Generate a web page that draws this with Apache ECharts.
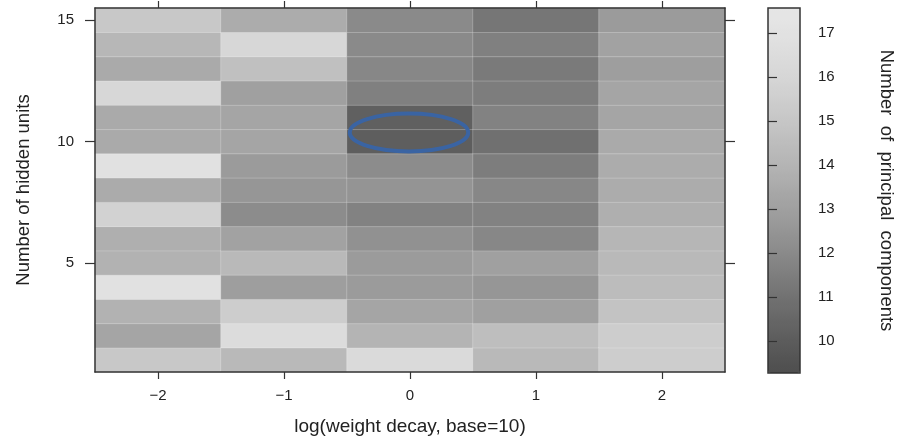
<!DOCTYPE html>
<html>
<head>
<meta charset="utf-8">
<script src="https://cdn.jsdelivr.net/npm/echarts@6/dist/echarts.min.js"></script>
<style>
html,body{margin:0;padding:0;background:#fff;}
#chart{width:901px;height:441px;}
</style>
</head>
<body>
<div id="chart"></div>
<script>
// ---- data ----
const xCategories = ['\u22122', '\u22121', '0', '1', '2'];
const yCategories = ['1','2','3','4','5','6','7','8','9','10','11','12','13','14','15'];
// values per weight-decay column, hidden units 1..15 (bottom to top)
const colMinus2 = [15.13, 13.25, 13.90, 16.92, 13.90, 13.75, 15.75, 13.55, 16.92, 13.50, 13.50, 16.08, 13.50, 14.17, 15.13];
const colMinus1 = [14.28, 16.50, 15.44, 12.90, 14.28, 13.10, 12.09, 12.55, 12.77, 13.25, 13.25, 13.00, 14.67, 16.08, 13.60];
const col0      = [16.33, 14.00, 13.25, 12.77, 12.77, 12.32, 11.67, 12.45, 12.09, 10.09, 10.18, 11.58, 11.88, 12.00, 12.00];
const col1      = [14.28, 14.56, 13.00, 12.55, 13.00, 11.88, 11.67, 11.88, 11.46, 10.91, 11.67, 11.46, 11.33, 11.58, 11.17];
const col2      = [15.44, 15.44, 14.83, 14.44, 14.28, 14.11, 13.75, 13.60, 13.60, 13.50, 13.25, 13.25, 12.90, 13.10, 12.77];
const columns = [colMinus2, colMinus1, col0, col1, col2];
const yTickLabels = ['5', '10', '15'];
const colorbarMin = 9.27;
const colorbarMax = 17.57;
const colorbarTicks = [10, 11, 12, 13, 14, 15, 16, 17];
// highlighted optimum (ellipse annotation)
const highlightX = '0';
const highlightY = 10.37;

// ---- styles ----
const FONT = 'Liberation Sans, Arial, Helvetica, sans-serif';
const TXT = '#222';
const LINE = '#333';
// gray ramp of the colorbar (value -> gray level)
const rampValues = [9.27, 10, 11, 12, 13, 14, 15, 16, 17, 17.57];
const rampGrays  = [78, 92, 114, 138, 160, 180, 198, 214, 226, 230];
function grayAt(v){
  for (let i = 0; i < rampValues.length - 1; i++) {
    if (v <= rampValues[i+1]) {
      const t = (v - rampValues[i]) / (rampValues[i+1] - rampValues[i]);
      return Math.round(rampGrays[i] + t * (rampGrays[i+1] - rampGrays[i]));
    }
  }
  return rampGrays[rampGrays.length-1];
}
const stops = [];
const N = 80;
for (let i = 0; i <= N; i++) {
  const g = grayAt(colorbarMin + (colorbarMax - colorbarMin) * i / N);
  stops.push('rgb(' + g + ',' + g + ',' + g + ')');
}

const heatData = [];
columns.forEach((col, xi) => col.forEach((v, yi) => heatData.push([xi, yi, v])));

const showY = (idx, val) => yTickLabels.indexOf(String(val)) >= 0;

const GRID = {left: 95, top: 8, width: 630, height: 365};
const CB = {left: 768, top: 8, width: 32, height: 365};

const chart = echarts.init(document.getElementById('chart'), null, {renderer: 'canvas'});
chart.setOption({
  animation: false,
  backgroundColor: '#fff',
  textStyle: {fontFamily: FONT},
  grid: [
    Object.assign({show: false}, GRID),
    Object.assign({show: true, borderColor: LINE, borderWidth: 1.5, backgroundColor: 'transparent', z: 10}, CB)
  ],
  xAxis: [
    {type: 'category', data: xCategories, gridIndex: 0, position: 'bottom', z: 10,
     axisLine: {show: true, lineStyle: {color: LINE, width: 1.5}},
     axisTick: {show: true, alignWithLabel: true, length: 7, lineStyle: {color: LINE, width: 1.2}},
     axisLabel: {show: true, margin: 16, fontSize: 15, color: TXT, fontFamily: FONT},
     splitLine: {show: false},
     name: 'log(weight decay, base=10)', nameLocation: 'middle', nameGap: 45,
     nameTextStyle: {fontSize: 19, color: TXT, fontFamily: FONT}},
    {type: 'category', data: xCategories, gridIndex: 0, position: 'top', z: 10,
     axisLine: {show: true, lineStyle: {color: LINE, width: 1.5}},
     axisTick: {show: true, alignWithLabel: true, length: 7, lineStyle: {color: LINE, width: 1.2}},
     axisLabel: {show: false}, splitLine: {show: false}},
    {type: 'value', gridIndex: 1, show: false, min: 0, max: 1}
  ],
  yAxis: [
    {type: 'category', data: yCategories, gridIndex: 0, position: 'left', z: 10,
     axisLine: {show: true, lineStyle: {color: LINE, width: 1.5}},
     axisTick: {show: true, alignWithLabel: true, length: 10, interval: showY, lineStyle: {color: LINE, width: 1.2}},
     axisLabel: {show: true, interval: showY, margin: 21, fontSize: 15, color: TXT, fontFamily: FONT},
     splitLine: {show: false},
     name: 'Number of hidden units', nameLocation: 'middle', nameGap: 62, nameRotate: 90,
     nameTextStyle: {fontSize: 18.5, color: TXT, fontFamily: FONT}},
    {type: 'category', data: yCategories, gridIndex: 0, position: 'right', z: 10,
     axisLine: {show: true, lineStyle: {color: LINE, width: 1.5}},
     axisTick: {show: true, alignWithLabel: true, length: 10, interval: showY, lineStyle: {color: LINE, width: 1.2}},
     axisLabel: {show: false}, splitLine: {show: false}},
    {type: 'value', gridIndex: 1, position: 'right', min: colorbarMin, max: colorbarMax, z: 10,
     axisLine: {show: false},
     axisTick: {show: true, inside: false, length: 9, customValues: colorbarTicks, lineStyle: {color: LINE, width: 1.2}},
     axisLabel: {show: true, customValues: colorbarTicks, margin: 18, fontSize: 15, color: TXT, fontFamily: FONT},
     splitLine: {show: false},
     name: 'Number  of  principal  components', nameLocation: 'middle', nameGap: 77, nameRotate: -90,
     nameTextStyle: {fontSize: 18.5, color: TXT, fontFamily: FONT}}
  ],
  visualMap: {
    type: 'continuous', min: colorbarMin, max: colorbarMax, seriesIndex: 0,
    orient: 'vertical', left: CB.left, top: CB.top, itemWidth: CB.width, itemHeight: CB.height,
    padding: 0, calculable: false, realtime: false, text: null, showLabel: false,
    inRange: {color: stops}, hoverLink: false
  },
  series: [{
    type: 'heatmap', xAxisIndex: 0, yAxisIndex: 0, data: heatData,
    itemStyle: {borderColor: 'rgba(255,255,255,0.22)', borderWidth: 1},
    emphasis: {disabled: true}
  }]
});

// ellipse annotation, positioned from data coordinates
const xi = xCategories.indexOf(highlightX);
const yLo = Math.floor(highlightY) - 1;
const pLo = chart.convertToPixel({xAxisIndex: 0, yAxisIndex: 0}, [xi, yLo]);
const pHi = chart.convertToPixel({xAxisIndex: 0, yAxisIndex: 0}, [xi, yLo + 1]);
const pNext = chart.convertToPixel({xAxisIndex: 0, yAxisIndex: 0}, [xi + 1, yLo]);
const frac = highlightY - Math.floor(highlightY);
const cx = pLo[0];
const cy = pLo[1] + (pHi[1] - pLo[1]) * frac;
const cellW = Math.abs(pNext[0] - pLo[0]);
const cellH = Math.abs(pHi[1] - pLo[1]);
chart.setOption({
  graphic: [{
    type: 'ellipse', z: 100,
    shape: {cx: cx - 1, cy: cy, rx: cellW * 0.47, ry: cellH * 0.78},
    style: {fill: 'none', stroke: '#3a64a3', lineWidth: 4}
  }]
});
</script>
</body>
</html>
